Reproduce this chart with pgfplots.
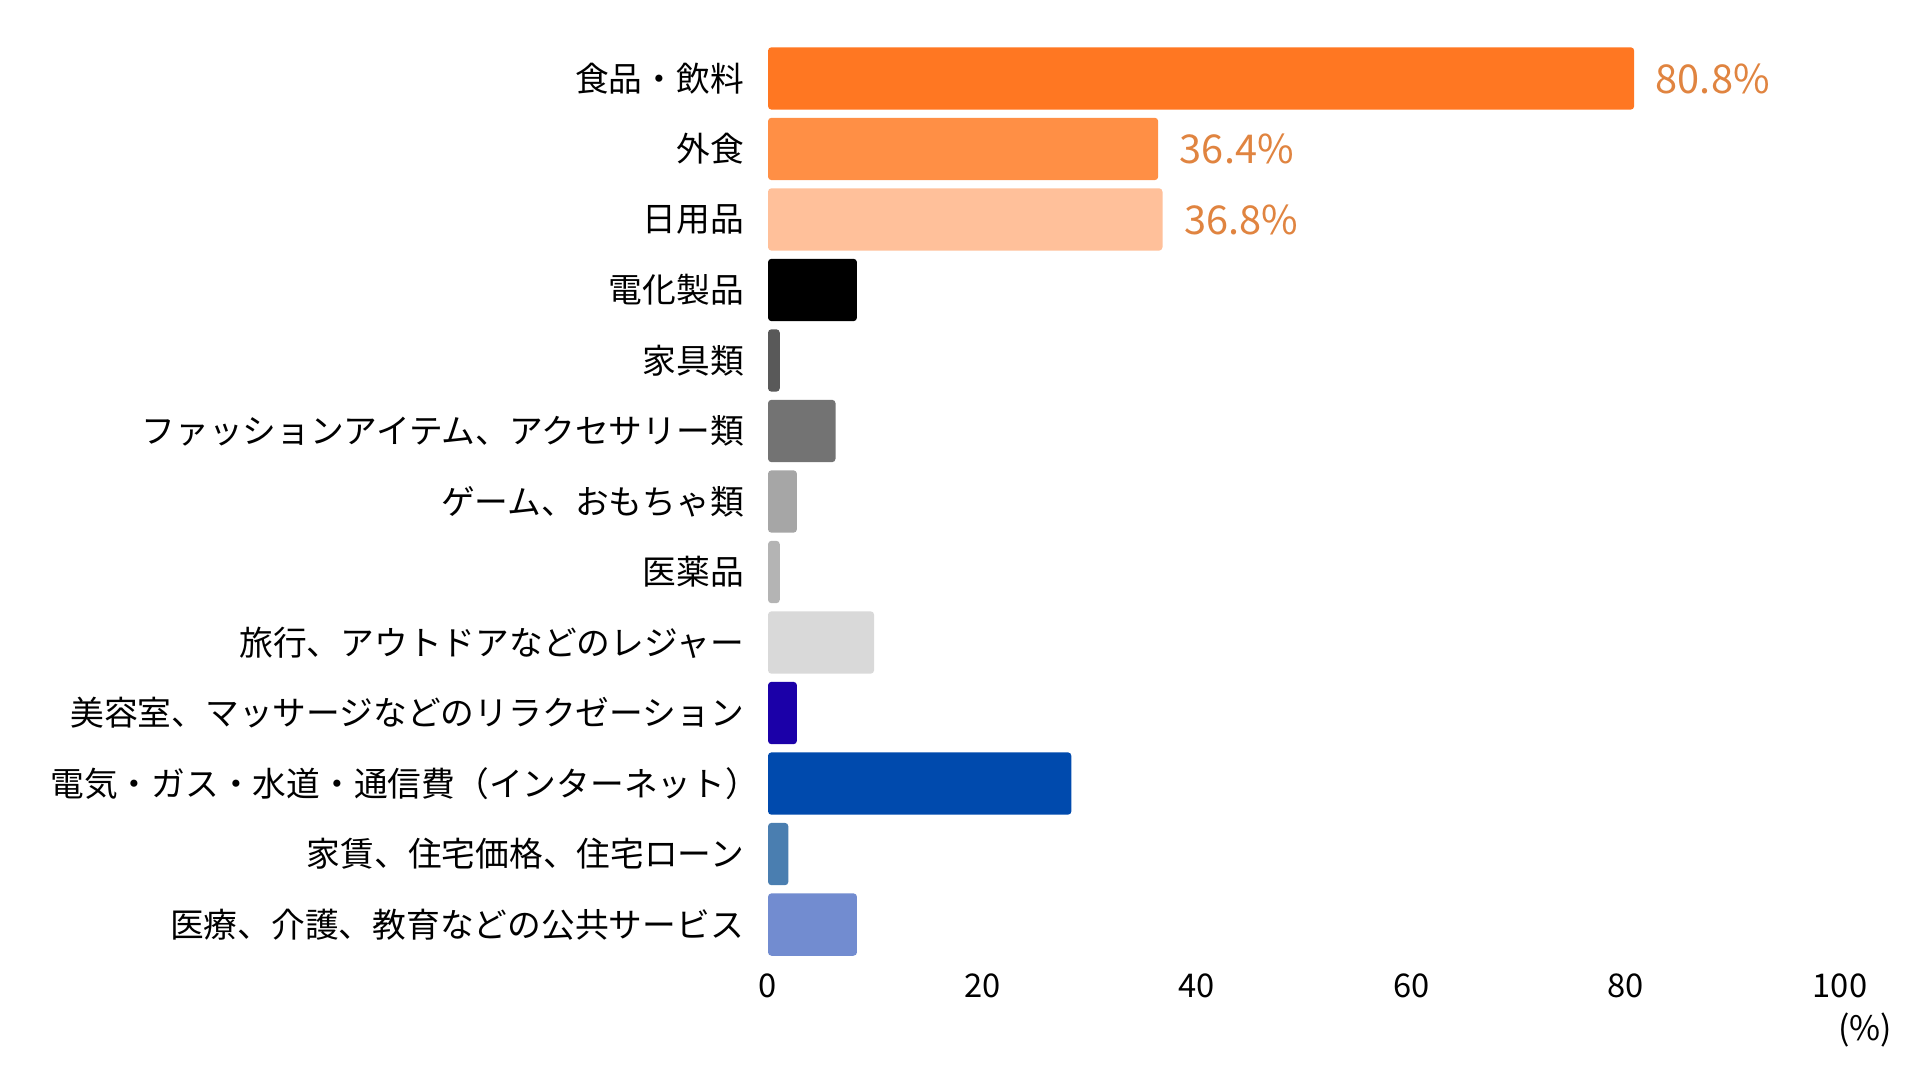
\documentclass[border=0pt]{standalone}
\usepackage{fontspec}
\setmainfont{Noto Sans CJK JP}
\usepackage{pgfplots}
\pgfplotsset{compat=1.18}
\pgfplotsset{/pgf/number format/assume math mode=true}

% bar colours, top to bottom
\definecolor{cA}{HTML}{FF7722}
\definecolor{cB}{HTML}{FF8F45}
\definecolor{cC}{HTML}{FFC09A}
\definecolor{cD}{HTML}{000000}
\definecolor{cE}{HTML}{595959}
\definecolor{cF}{HTML}{737373}
\definecolor{cG}{HTML}{A6A6A6}
\definecolor{cH}{HTML}{B4B4B4}
\definecolor{cI}{HTML}{D9D9D9}
\definecolor{cJ}{HTML}{1B00A8}
\definecolor{cK}{HTML}{004AAD}
\definecolor{cL}{HTML}{4A7EB0}
\definecolor{cM}{HTML}{728CD0}
\definecolor{vlab}{HTML}{E08440}

\begin{document}
\begin{tikzpicture}
\path[use as bounding box] (0,0) rectangle (192mm,108mm);
\begin{axis}[
  at={(76.8mm,12.02mm)}, anchor=south west,
  scale only axis, width=107.2mm, height=91.66mm,
  xmin=0, xmax=100, ymin=-0.5, ymax=12.5,
  y dir=reverse,
  axis line style={draw=none},
  major tick length=0pt,
  xtick={0,20,...,100},
  ytick={0,...,12},
  % the closing full-width bracket is set flush with the label edge
  yticklabels={食品・飲料, 外食, 日用品, 電化製品, 家具類,
    ファッションアイテム、アクセサリー類, ゲーム、おもちゃ類, 医薬品,
    旅行、アウトドアなどのレジャー, 美容室、マッサージなどのリラクゼーション,
    電気・ガス・水道・通信費（インターネット）\kern-0.45em, 家賃、住宅価格、住宅ローン,
    医療、介護、教育などの公共サービス},
  yticklabel style={anchor=east, inner sep=0pt, xshift=-2.35mm,
    font=\fontsize{9.6}{11}\selectfont},
  xticklabel style={anchor=north, inner sep=0pt, yshift=-1.35mm,
    font=\fontsize{9.3}{11}\selectfont},
  xbar, bar width=6.24mm,
  every axis plot/.append style={bar shift=0pt, draw=none, rounded corners=0.35mm},
  nodes near coords style={anchor=west, inner sep=0pt, xshift=2.1mm,
    color=vlab, font=\fontsize{11.3}{13}\selectfont},
  clip=false,
]
\addplot[fill=cA, nodes near coords={\pgfmathprintnumber[fixed,precision=1,fixed zerofill]{\pgfplotspointmeta}\%}] coordinates {(80.8,0)};
\addplot[fill=cB, nodes near coords={\pgfmathprintnumber[fixed,precision=1,fixed zerofill]{\pgfplotspointmeta}\%}] coordinates {(36.4,1)};
\addplot[fill=cC, nodes near coords={\pgfmathprintnumber[fixed,precision=1,fixed zerofill]{\pgfplotspointmeta}\%}] coordinates {(36.8,2)};
\addplot[fill=cD] coordinates {(8.3,3)};
\addplot[fill=cE] coordinates {(1.1,4)};
\addplot[fill=cF] coordinates {(6.3,5)};
\addplot[fill=cG] coordinates {(2.7,6)};
\addplot[fill=cH] coordinates {(1.1,7)};
\addplot[fill=cI] coordinates {(9.9,8)};
\addplot[fill=cJ] coordinates {(2.7,9)};
\addplot[fill=cK] coordinates {(28.3,10)};
\addplot[fill=cL] coordinates {(1.9,11)};
\addplot[fill=cM] coordinates {(8.3,12)};
\node[anchor=center, font=\fontsize{9.6}{11}\selectfont] at (axis cs:100,12.5) [xshift=2.5mm, yshift=-7.0mm] {(\%)};
\end{axis}
\end{tikzpicture}
\end{document}
